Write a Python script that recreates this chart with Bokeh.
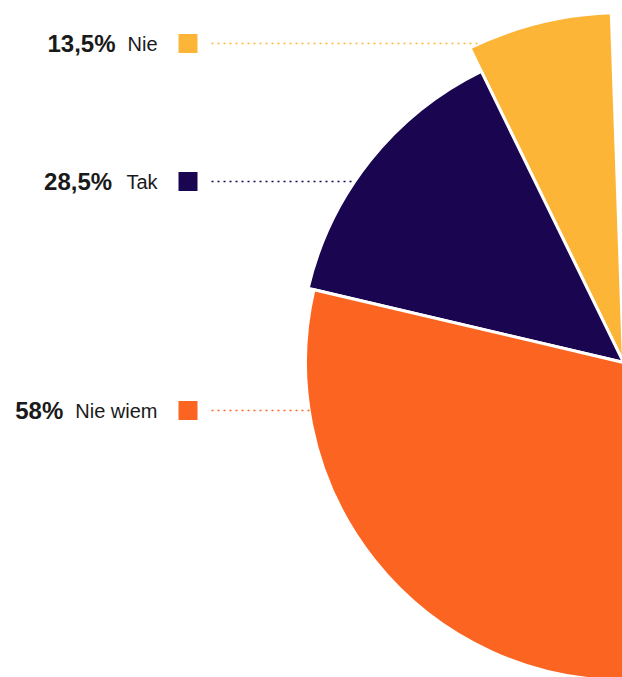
import math
from bokeh.plotting import figure
from bokeh.models import Range1d
from bokeh.core.properties import value
from bokeh.embed import file_html
from bokeh.resources import INLINE

# ---- data ----
categories = ["Nie", "Tak", "Nie wiem"]
values = [13.5, 28.5, 58.0]
pct_labels = ["13,5%", "28,5%", "58%"]
colors = ["#FDB538", "#1A0550", "#FC6421"]

# ---- layout / style ----
W, H = 622, 677
CX, CY = 623, H - 362          # pie centre (pixel space, y up)
radii = [350, 324, 318]        # per-slice outer radius
start_deg = 92.0               # first slice begins near the top
total_deg = 178.0              # roughly a half-pie, drawn anticlockwise
row_y_pix = [43, 181, 410]     # legend rows (from top)
name_right = 157
sq_x = 187.5
line_x0 = 211

# Arial/Liberation metrics (per 1 em) for right-aligned layout
REG = {"N": .722, "i": .222, "e": .556, " ": .278, "w": .722, "m": .833,
       "T": .611, "a": .556, "k": .500}
NAME_PX, PCT_PX = 20, 24
PCT_GAP = 12


def text_w(s, table, px):
    return sum(table.get(c, .55) for c in s) * px


p = figure(width=W, height=H, output_backend="svg", toolbar_location=None,
           x_range=Range1d(0, W), y_range=Range1d(0, H), min_border=0)
p.axis.visible = False
p.grid.visible = False
p.outline_line_color = None
p.background_fill_color = "white"
p.border_fill_color = "white"

# slices
angles = []
acc = start_deg
for v in values:
    a0 = acc
    a1 = acc + v / sum(values) * total_deg
    angles.append((a0, a1))
    acc = a1

for (a0, a1), r, c in zip(angles, radii, colors):
    p.wedge(x=[CX], y=[CY], radius=r, start_angle=math.radians(a0),
            end_angle=math.radians(a1), direction="anticlock",
            fill_color=c, line_color="white", line_width=3)

# legend rows
for name, lab, c, ypix, r, (a0, a1) in zip(categories, pct_labels, colors,
                                            row_y_pix, radii, angles):
    y = H - ypix
    dy = y - CY
    xs = []
    if abs(dy) < r:
        xs.append(CX - math.sqrt(r * r - dy * dy))
    a1r = math.radians(a1)
    if abs(math.sin(a1r)) > 1e-6 and dy / math.sin(a1r) > 0:
        xs.append(CX + dy * math.cos(a1r) / math.sin(a1r))
    x_end = max(xs) if xs else CX
    p.line(x=[line_x0, x_end - 2], y=[y, y], line_color=c, line_width=1.6,
           line_dash="2 4")
    p.rect(x=[sq_x], y=[y], width=19, height=19, fill_color=c, line_color=None)
    p.text(x=[name_right], y=[y], text=[name], text_align="right",
           text_baseline="middle", text_font=value("Liberation Sans"),
           text_font_size=f"{NAME_PX}px", text_color="#1a1a1a")
    nx0 = name_right - text_w(name, REG, NAME_PX)
    p.text(x=[nx0 - PCT_GAP], y=[y], text=[lab], text_align="right",
           text_baseline="middle", text_font=value("Liberation Sans"),
           text_font_size=f"{PCT_PX}px", text_font_style="bold",
           text_color="#1a1a1a")

open("out.html", "w").write(file_html(p, INLINE))
